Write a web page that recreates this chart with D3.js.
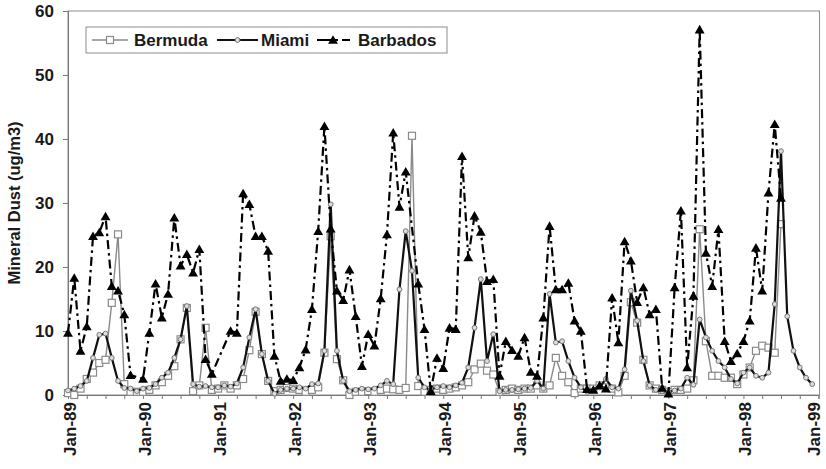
<!DOCTYPE html>
<html>
<head>
<meta charset="utf-8">
<script src="https://cdn.jsdelivr.net/npm/d3@7"></script>
<style>
  body { margin: 0; background: #fff; }
  svg text { font-family: "Liberation Sans", Arial, sans-serif; font-weight: bold; fill: #1a1a1a; }
</style>
</head>
<body>
<svg id="chart" width="826" height="469"></svg>
<script>
// monthly values, Jan-89 .. Dec-98 (null = no sample)
const yearLabels = ["Jan-89", "Jan-90", "Jan-91", "Jan-92", "Jan-93", "Jan-94",
                    "Jan-95", "Jan-96", "Jan-97", "Jan-98", "Jan-99"];
const yTicks = [0, 10, 20, 30, 40, 50, 60];

const bermuda = [
  0.3, 0.0, 1.0, 2.5, 3.5, 5.0, 5.5, 14.4, 25.1, 1.7, 0.5, 0.5,
  0.5, 0.8, 1.5, 2.0, 3.0, 4.5, 8.7, 13.6, 0.6, 1.5, 10.5, 0.8,
  1.0, 1.5, 1.0, 1.5, 2.5, 7.0, 13.0, 6.4, 2.2, 0.6, 0.8, 1.1,
  1.0, 0.8, 0.5, 0.8, 1.2, 6.6, 24.8, 5.6, 2.3, 0.0, 0.5, 0.5,
  0.6, 0.5, 0.8, 1.0, 0.9, 0.8, 1.1, 40.5, 1.4, 0.5, 0.8, 1.0,
  0.8, 1.0, 1.2, 1.5, 2.0, 4.0, 4.9, 3.8, 3.2, 0.5, 0.8, 1.0,
  0.8, 1.0, 1.0, 1.5, 1.0, 1.5, 5.8, 3.0, 2.0, 0.3, 1.0, 1.0,
  1.0, 1.5, 1.2, 1.0, 0.4, 3.0, 14.5, 11.3, 5.5, 1.5, 1.0, 0.8,
  0.5, 0.8, 0.8, 1.0, 2.3, 25.9, 8.4, 3.0, 3.0, 2.7, 2.7, 1.7,
  3.2, 4.3, 6.9, 7.7, 7.4, 6.6, 26.7, null, null, null, null, null
];

const miami = [
  0.7, 1.0, 1.4, 2.2, 5.8, 9.4, 9.6, 5.8, 2.2, 1.1, 1.0, 0.6,
  1.0, 1.1, 1.7, 2.7, 3.5, 5.8, 8.7, 13.9, 1.7, 1.3, 1.4, 1.2,
  1.2, 1.5, 1.3, 1.8, 4.3, 9.0, 13.4, 6.4, 2.2, 0.2, 0.8, 1.0,
  1.0, 1.2, 1.0, 1.7, 1.8, 6.9, 29.8, 6.9, 2.2, 0.6, 0.8, 1.0,
  0.9, 1.0, 1.5, 2.2, 1.7, 16.5, 25.6, 19.4, 2.7, 1.2, 0.8, 1.2,
  1.4, 1.2, 1.5, 1.9, 4.3, 10.5, 18.1, 5.3, 9.5, 0.6, 0.8, 0.8,
  0.9, 1.0, 1.1, 2.2, 1.0, 15.8, 8.2, 8.4, 5.3, 2.7, 1.2, 0.5,
  0.8, 1.2, 2.5, 1.2, 1.0, 4.0, 16.3, 11.6, 5.3, 1.5, 0.8, 0.6,
  0.5, 0.7, 1.0, 2.7, 1.6, 11.8, 9.0, 6.9, 5.3, 4.3, 2.5, 1.8,
  3.5, 4.3, 3.0, 2.7, 3.5, 14.2, 38.1, 12.3, 6.9, 4.3, 2.7, 1.7
];

const barbados = [
  9.7, 18.3, 6.9, 10.7, 24.8, 25.4, 27.9, 17.0, 16.3, 12.6, 3.1, null,
  2.5, 9.7, 17.4, 12.1, 15.8, 27.7, 20.2, 22.0, 19.1, 22.8, 5.6, 3.3,
  null, null, 10.0, 9.7, 31.5, 29.8, 24.8, 24.8, 22.5, 6.1, 2.2, 2.5,
  2.3, 4.3, 7.1, 13.4, 25.6, 42.0, 26.0, 16.3, 14.8, 19.6, 12.3, 4.5,
  9.5, 7.7, 15.1, 25.1, 41.0, 29.4, 34.9, null, 17.4, 10.3, 0.6, 5.8,
  4.2, 10.5, 10.3, 37.3, 21.5, 28.0, 25.5, 17.8, 18.1, 3.0, 8.4, 7.0,
  6.1, 9.0, 3.6, 3.0, 12.1, 26.4, 16.5, 16.5, 17.5, 11.6, 10.0, 0.9,
  0.8, 1.5, 1.0, 15.2, 8.2, 24.0, 21.0, 14.5, 16.8, 12.6, 13.4, 1.1,
  0.2, 16.8, 28.8, 4.3, 15.5, 57.1, 22.2, 17.0, 25.9, 8.4, 5.3, 6.5,
  8.4, 11.6, 23.0, 16.3, 31.6, 42.3, 30.8, null, null, null, null, null
];

const svg = d3.select("#chart");
const plotL = 68, plotR = 818.5, plotT = 11, plotB = 395;

const x = d3.scaleLinear().domain([0, 120]).range([plotL, plotR]);
const y = d3.scaleLinear().domain([0, 60]).range([plotB, plotT]);

// plot frame
svg.append("rect")
  .attr("x", plotL).attr("y", plotT)
  .attr("width", plotR - plotL + 1).attr("height", plotB - plotT)
  .attr("fill", "#fff").attr("stroke", "#8c8c8c").attr("stroke-width", 1);

// y axis
const yAxis = svg.append("g")
  .attr("transform", `translate(${plotL},0)`)
  .call(d3.axisLeft(y).tickValues(yTicks).tickSize(5).tickPadding(9));
yAxis.select(".domain").attr("stroke", "#777");
yAxis.selectAll(".tick line").attr("stroke", "#777");
yAxis.selectAll("text").style("font-size", "17px").attr("fill", "#1a1a1a");

// x axis, tick every 3 months, label every January
const xAxis = svg.append("g")
  .attr("transform", `translate(0,${plotB})`)
  .call(d3.axisBottom(x)
    .tickValues(d3.range(0, 121, 3))
    .tickSize(4)
    .tickFormat(d => d % 12 === 0 ? yearLabels[d / 12] : ""));
xAxis.select(".domain").attr("stroke", "#777");
xAxis.selectAll(".tick line").attr("stroke", "#777");
xAxis.selectAll("text")
  .style("font-size", "17px")
  .attr("fill", "#1a1a1a")
  .attr("text-anchor", "end")
  .attr("transform", "rotate(-90)")
  .attr("x", -7)
  .attr("y", d => d === 120 ? -5 : 1)   // last label pulled in so it stays on the page
  .attr("dy", "0.36em");

// y title
svg.append("text")
  .attr("transform", `translate(20,${(plotT + plotB) / 2}) rotate(-90)`)
  .attr("text-anchor", "middle")
  .style("font-size", "16.5px")
  .text("Mineral Dust (ug/m3)");

const pts = arr => arr.map((v, i) => ({ i, v })).filter(d => d.v !== null);
const line = d3.line().x(d => x(d.i)).y(d => y(d.v));
const tri = d3.symbol().type(d3.symbolTriangle).size(42);

// Bermuda
svg.append("path")
  .attr("d", line(pts(bermuda)))
  .attr("fill", "none").attr("stroke", "#8a8a8a").attr("stroke-width", 1.4);
svg.append("g").selectAll("rect")
  .data(pts(bermuda)).join("rect")
  .attr("x", d => x(d.i) - 3.5).attr("y", d => y(d.v) - 3.5)
  .attr("width", 7).attr("height", 7)
  .attr("fill", "#fff").attr("stroke", "#8a8a8a").attr("stroke-width", 1.2);

// Miami
svg.append("path")
  .attr("d", line(pts(miami)))
  .attr("fill", "none").attr("stroke", "#111").attr("stroke-width", 2.2);
svg.append("g").selectAll("circle")
  .data(pts(miami)).join("circle")
  .attr("cx", d => x(d.i)).attr("cy", d => y(d.v)).attr("r", 2.4)
  .attr("fill", "#ddd").attr("stroke", "#777").attr("stroke-width", 1);

// Barbados
svg.append("path")
  .attr("d", line(pts(barbados)))
  .attr("fill", "none").attr("stroke", "#000").attr("stroke-width", 2.2)
  .attr("stroke-dasharray", "9,4,2.5,4");
svg.append("g").selectAll("path")
  .data(pts(barbados)).join("path")
  .attr("transform", d => `translate(${x(d.i)},${y(d.v) + 1})`)
  .attr("d", tri).attr("fill", "#000");

// legend
const lg = svg.append("g").attr("transform", "translate(86,27)");
lg.append("rect").attr("width", 361).attr("height", 26)
  .attr("fill", "#fff").attr("stroke", "#8c8c8c");
const items = [
  { name: "Bermuda", x1: 6, x2: 42, tx: 48 },
  { name: "Miami", x1: 131, x2: 172, tx: 175 },
  { name: "Barbados", x1: 231, x2: 264, tx: 272 }
];
lg.selectAll("text").data(items).join("text")
  .attr("x", d => d.tx).attr("y", 13).attr("dy", "0.36em")
  .style("font-size", "17px").text(d => d.name);
lg.append("line").attr("x1", items[0].x1).attr("x2", items[0].x2).attr("y1", 13).attr("y2", 13)
  .attr("stroke", "#8a8a8a").attr("stroke-width", 1.4);
lg.append("rect").attr("x", 20.5).attr("y", 9.5).attr("width", 7).attr("height", 7)
  .attr("fill", "#fff").attr("stroke", "#8a8a8a").attr("stroke-width", 1.2);
lg.append("line").attr("x1", items[1].x1).attr("x2", items[1].x2).attr("y1", 13).attr("y2", 13)
  .attr("stroke", "#111").attr("stroke-width", 2.2);
lg.append("circle").attr("cx", 151.5).attr("cy", 13).attr("r", 2.4)
  .attr("fill", "#ddd").attr("stroke", "#777");
lg.append("line").attr("x1", items[2].x1).attr("x2", items[2].x2).attr("y1", 13).attr("y2", 13)
  .attr("stroke", "#000").attr("stroke-width", 2.2).attr("stroke-dasharray", "14,4,3,4");
lg.append("path").attr("transform", "translate(247,14)").attr("d", tri).attr("fill", "#000");
</script>
</body>
</html>
